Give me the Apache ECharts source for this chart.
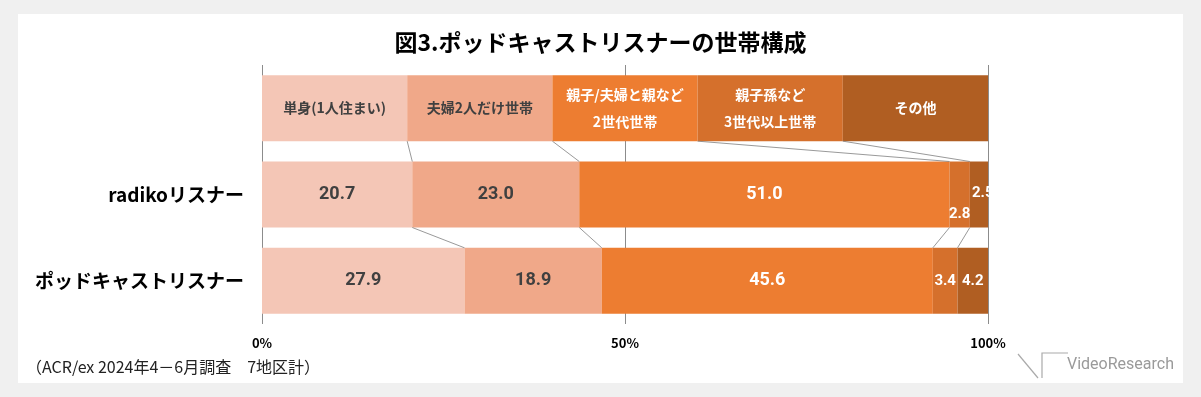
<!DOCTYPE html>
<html>
<head>
<meta charset="utf-8">
<script src="https://cdn.jsdelivr.net/npm/echarts@6/dist/echarts.min.js"></script>
<style>
    html, body { margin: 0; padding: 0; background: #f0f0f0; }
    #chart { width: 1201px; height: 397px; }
</style>
</head>
<body>
<div id="chart"></div>
<script>
    // data
    const categories = ['', 'radikoリスナー', 'ポッドキャストリスナー'];
    const segmentNames = ['単身(1人住まい)', '夫婦2人だけ世帯', '親子/夫婦と親など\n2世代世帯', '親子孫など\n3世代以上世帯', 'その他'];
    const headerValues = [20, 20, 20, 20, 20];
    const radikoValues = [20.7, 23.0, 51.0, 2.8, 2.5];
    const podcastValues = [27.9, 18.9, 45.6, 3.4, 4.2];
    const xTicks = [0, 50, 100];

    const colors = ['#f4c6b6', '#f0a889', '#ed7d31', '#d5702c', '#b05e22'];
    const labelColors = ['#404040', '#404040', '#ffffff', '#ffffff', '#ffffff'];
    const barWidth = 66;
    const font = '"Noto Sans CJK JP", "Noto Sans", sans-serif';

    // small segments on the radiko bar have their labels pushed aside
    const radikoLabelPos = [null, null, null,
        { position: 'inside', offset: [0, 20] },
        { position: 'right', distance: 0, offset: [-16, -1] }];

    const rows = [headerValues, radikoValues, podcastValues];

    function cumulative(arr) {
        let s = 0, out = [];
        for (let i = 0; i < arr.length - 1; i++) {
            s += arr[i];
            out.push(Math.round(s * 10) / 10);
        }
        return out;
    }

    // connector lines between neighbouring bars
    let connectors = [];
    for (let r = 0; r < rows.length - 1; r++) {
        let a = cumulative(rows[r]), b = cumulative(rows[r + 1]);
        for (let i = 0; i < a.length; i++) {
            connectors.push([a[i], r, b[i], r + 1]);
        }
    }

    function valueLabel(v, i, pos) {
        let lbl = {
            show: true,
            position: 'inside',
            formatter: v.toFixed(1),
            fontSize: v < 5 ? 15 : 18,
            fontWeight: 'bold',
            fontFamily: 'Roboto, "Noto Sans", sans-serif',
            color: labelColors[i]
        };
        return pos ? Object.assign(lbl, pos) : lbl;
    }

    let series = segmentNames.map(function (name, i) {
        return {
            name: name,
            type: 'bar',
            stack: 'total',
            barWidth: barWidth,
            clip: false,
            itemStyle: { color: colors[i] },
            z: 3,
            data: [
                {
                    value: headerValues[i],
                    label: {
                        show: true,
                        formatter: name,
                        fontSize: 14,
                        lineHeight: 27,
                        fontWeight: 'bold',
                        color: labelColors[i]
                    }
                },
                { value: radikoValues[i], label: valueLabel(radikoValues[i], i, radikoLabelPos[i]) },
                { value: podcastValues[i], label: valueLabel(podcastValues[i], i) }
            ],
            label: { position: 'inside', fontFamily: font }
        };
    });

    series.push({
        type: 'custom',
        z: 4,
        silent: true,
        clip: false,
        encode: { x: [0, 2], y: [1, 3] },
        data: connectors,
        renderItem: function (params, api) {
            let p0 = api.coord([api.value(0), api.value(1)]);
            let p1 = api.coord([api.value(2), api.value(3)]);
            return {
                type: 'line',
                shape: { x1: p0[0], y1: p0[1] + barWidth / 2, x2: p1[0], y2: p1[1] - barWidth / 2 },
                style: { stroke: '#7f7f7f', lineWidth: 0.8 }
            };
        }
    });

    let chart = echarts.init(document.getElementById('chart'));
    chart.setOption({
        backgroundColor: '#f0f0f0',
        animation: false,
        textStyle: { fontFamily: font },
        title: {
            text: '図3.ポッドキャストリスナーの世帯構成',
            left: 'center',
            top: 26,
            textStyle: { fontSize: 23, fontWeight: 'bold', color: '#000', fontFamily: font }
        },
        graphic: [
            {
                type: 'rect', z: -10,
                shape: { x: 18, y: 14, width: 1165, height: 369 },
                style: { fill: '#ffffff' }
            },
            {
                type: 'text', left: 26, top: 359,
                style: { text: '（ACR/ex 2024年4－6月調査　7地区計）', fill: '#222', font: '16px ' + font }
            },
            {
                type: 'polyline',
                shape: { points: [[1018, 354], [1038, 378]] },
                style: { stroke: '#aaaaaa', lineWidth: 1.2, fill: null }
            },
            {
                type: 'polyline',
                shape: { points: [[1042, 378], [1042, 353], [1068, 353]] },
                style: { stroke: '#aaaaaa', lineWidth: 1.2, fill: null }
            },
            {
                type: 'text', left: 1067, top: 357,
                style: { text: 'VideoResearch', fill: '#9a9a9a', font: '16px Roboto, sans-serif' }
            }
        ],
        grid: {
            left: 262,
            width: 726,
            top: 65,
            height: 259,
            containLabel: false
        },
        xAxis: {
            type: 'value',
            min: 0,
            max: 100,
            interval: 50,
            axisLine: { show: false },
            axisTick: { show: false },
            splitLine: { show: true, lineStyle: { color: '#8c8c8c', width: 1 } },
            axisLabel: {
                margin: 13,
                fontSize: 13,
                fontWeight: 'bold',
                color: '#000',
                formatter: function (v) { return xTicks.indexOf(v) >= 0 ? v + '%' : ''; }
            }
        },
        yAxis: {
            type: 'category',
            inverse: true,
            data: categories,
            axisLine: { show: false },
            axisTick: { show: false },
            axisLabel: {
                margin: 18,
                fontSize: 19,
                fontWeight: 'bold',
                color: '#000'
            }
        },
        series: series
    });
</script>
</body>
</html>
